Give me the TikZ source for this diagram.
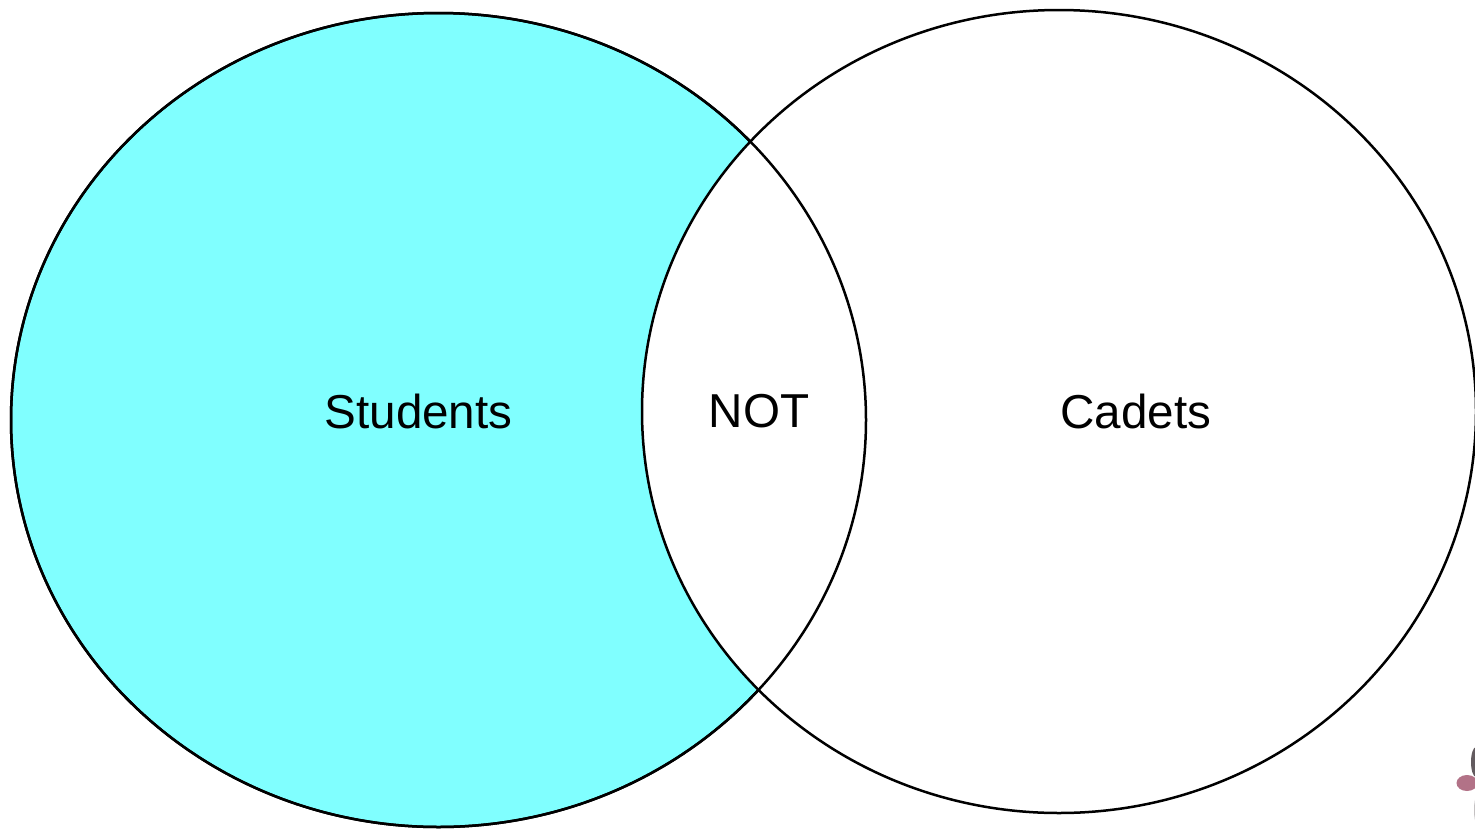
\documentclass[tikz,border=0pt]{standalone}
\usepackage{fontspec}
\setmainfont{Liberation Sans}
\usetikzlibrary{shapes.geometric}
\definecolor{cyanfill}{RGB}{128,255,255}
\definecolor{blobmauve}{RGB}{165,90,115}
\definecolor{blobdark}{RGB}{60,50,55}
\tikzset{
  venn/.style={ellipse,inner sep=0pt,outer sep=0pt,line width=2.5pt,draw=black},
  lbl/.style={font=\fontsize{47.6}{56}\selectfont,text=black,inner sep=0pt}
}
\begin{document}
\begin{tikzpicture}[x=1pt,y=-1pt]
\useasboundingbox (0,0) rectangle (1475,828);
\fill[white] (0,0) rectangle (1475,828);
% decorative fragment, lower right
\begin{scope}
\clip (0,0) rectangle (1475,828);
\fill[blobdark,opacity=.8] (1476,762) ellipse [x radius=5, y radius=15];
\fill[blobmauve,opacity=.85] (1467,783) ellipse [x radius=10.5, y radius=8];
\fill[blobdark,opacity=.3] (1477,810) ellipse [x radius=3, y radius=14];
\end{scope}
\node[venn,fill=cyanfill,minimum width=855pt,minimum height=814pt] (students) at (438.5,420) {};
\node[venn,fill=white,minimum width=834pt,minimum height=803pt] (cadets) at (1059,411.5) {};
\node[venn,minimum width=855pt,minimum height=814pt] (studentsline) at (438.5,420) {};
\node[lbl] (s) at (418.5,411) {Students};
\node[lbl] (n) at (759,411) {NOT};
\node[lbl] (c) at (1136,411) {Cadets};
\end{tikzpicture}
\end{document}
